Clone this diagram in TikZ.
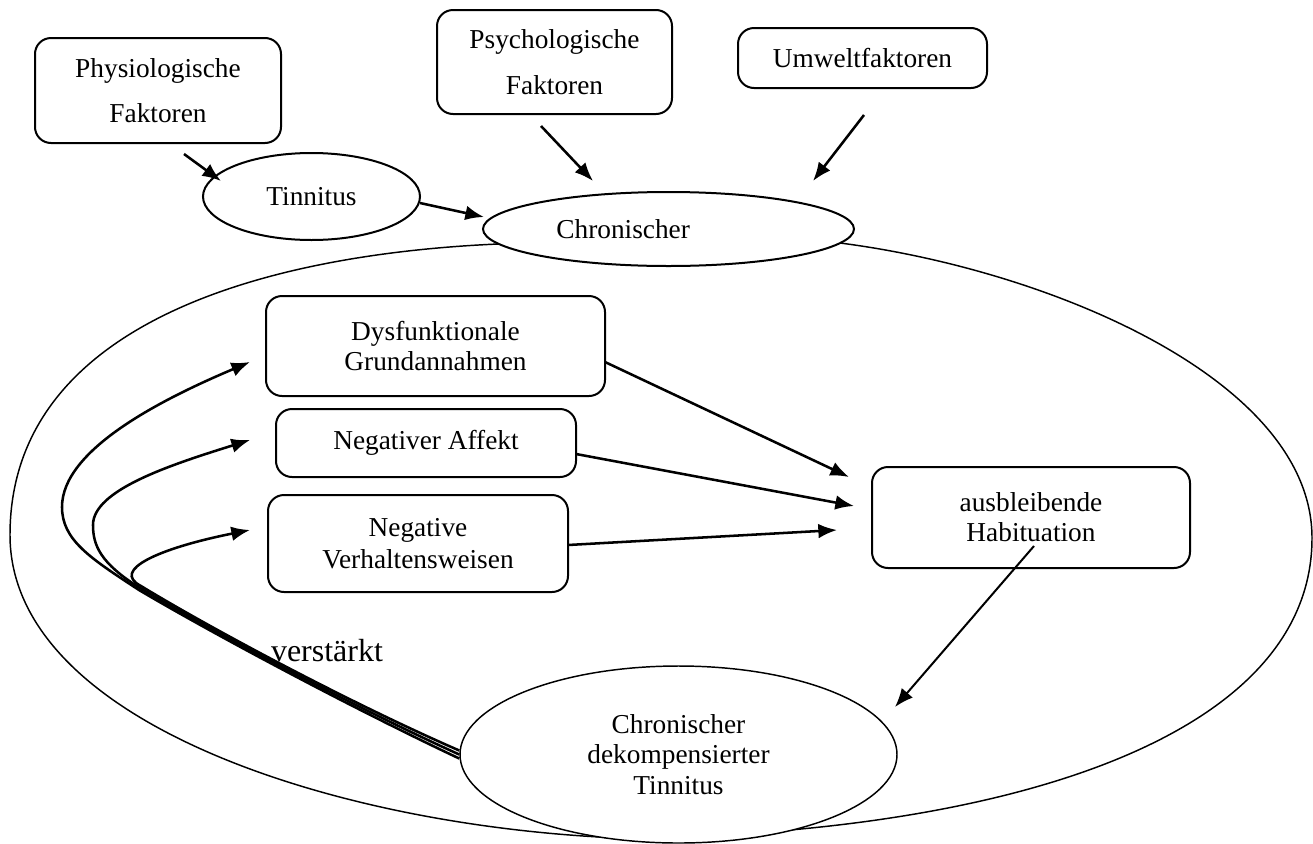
\documentclass[tikz,border=0pt]{standalone}
\usepackage{fontspec}
\setmainfont{Liberation Serif}
\usetikzlibrary{shapes.geometric,arrows.meta}

\begin{document}
\begin{tikzpicture}[
    x=0.75pt, y=-0.75pt,
    font=\fontsize{20.5}{22.5}\selectfont,
    box/.style={rectangle, rounded corners=12pt, draw, line width=1.5pt, align=center, inner sep=0pt},
    oval/.style={ellipse, draw, line width=1.5pt, fill=white, align=center, inner sep=0pt},
    arrow/.style={-{Latex[length=14pt,width=11pt]}, line width=1.9pt},
    rim/.style={line width=1.1pt}
]
\useasboundingbox (0,0) rectangle (1313,843);

% outer loop
\draw[rim] (620,838) .. controls (330,826) and (10,720) .. (10,535)
    .. controls (10,330) and (250,255) .. (498,244) -- (840,243)
    .. controls (1050,270) and (1312,380) .. (1312,538)
    .. controls (1312,740) and (1000,835) .. (620,838) -- cycle;

% factors
\node[box, minimum width=184.5pt, minimum height=78.75pt, font=\fontsize{20.5}{34}\selectfont] (physio) at (158,90.5) {Physiologische\\Faktoren};
\node[box, minimum width=176.25pt, minimum height=78pt, font=\fontsize{20.5}{34}\selectfont] (psycho) at (554.5,62) {Psychologische\\Faktoren};
\node[box, minimum width=186.75pt, minimum height=45pt] (umwelt) at (862.5,58) {Umweltfaktoren};

\node[oval, minimum width=162.75pt, minimum height=65.25pt] (tinn) at (311.5,196.5) {Tinnitus};
\node[oval, minimum width=278.25pt, minimum height=55.5pt, label={[xshift=-34pt]center:Chronischer}] (chron) at (668.5,229) {};

% inside the loop
\node[box, minimum width=254.25pt, minimum height=75pt] (dysf) at (435.5,346) {Dysfunktionale\\Grundannahmen};
\node[box, minimum width=225pt, minimum height=51pt] (affekt) at (426,443) {Negativer Affekt};
\node[box, minimum width=225pt, minimum height=72.75pt, font=\fontsize{20.5}{24}\selectfont] (verhalten) at (418,543.5) {Negative\\Verhaltensweisen};
\node[box, minimum width=238.5pt, minimum height=75.75pt] (habit) at (1031,517.5) {ausbleibende\\Habituation};
\node[oval, line width=1.1pt, minimum width=327.75pt, minimum height=132.75pt, font=\fontsize{20.5}{23}\selectfont] (dekomp) at (678.5,754.5) {Chronischer\\dekompensierter\\Tinnitus};
\node[font=\fontsize{24}{28}\selectfont] (verst) at (327,651) {verstärkt};

% arrow ends
\coordinate (a1s) at (184,154); \coordinate (a1e) at (221,181);
\coordinate (a2s) at (420,203); \coordinate (a2e) at (484,217);
\coordinate (a3s) at (541,126); \coordinate (a3e) at (593,181);
\coordinate (a4s) at (864,115); \coordinate (a4e) at (813,181);
\coordinate (b1s) at (605,362); \coordinate (b1e) at (849,477);
\coordinate (b2s) at (576,454); \coordinate (b2e) at (854,506);
\coordinate (b3s) at (568,545); \coordinate (b3e) at (837,530);
\coordinate (c1s) at (1034,546); \coordinate (c1e) at (895,707);
\coordinate (v1) at (250,362); \coordinate (v2) at (250,440); \coordinate (v3) at (250,530);

\draw[arrow] (a1s) -- (a1e);
\draw[arrow] (a2s) -- (a2e);
\draw[arrow] (a3s) -- (a3e);
\draw[arrow] (a4s) -- (a4e);
\draw[arrow] (b1s) -- (b1e);
\draw[arrow] (b2s) -- (b2e);
\draw[arrow] (b3s) -- (b3e);
\draw[arrow, line width=1.5pt] (c1s) -- (c1e);

% feedback
\draw[arrow] ([yshift=-3pt]dekomp.west) .. controls (350,707) and (210,632) .. (139,590)
    .. controls (90,558) and (62,540) .. (62,507) .. controls (62,450) and (160,400) .. (v1);
\draw[arrow] (dekomp.west) .. controls (350,705) and (210,630) .. (140,588)
    .. controls (100,563) and (93,545) .. (93,525) .. controls (93,490) and (170,465) .. (v2);
\draw[arrow] ([yshift=3pt]dekomp.west) .. controls (350,703) and (210,628) .. (141,586)
    .. controls (110,570) and (160,548) .. (v3);

\end{tikzpicture}
\end{document}
